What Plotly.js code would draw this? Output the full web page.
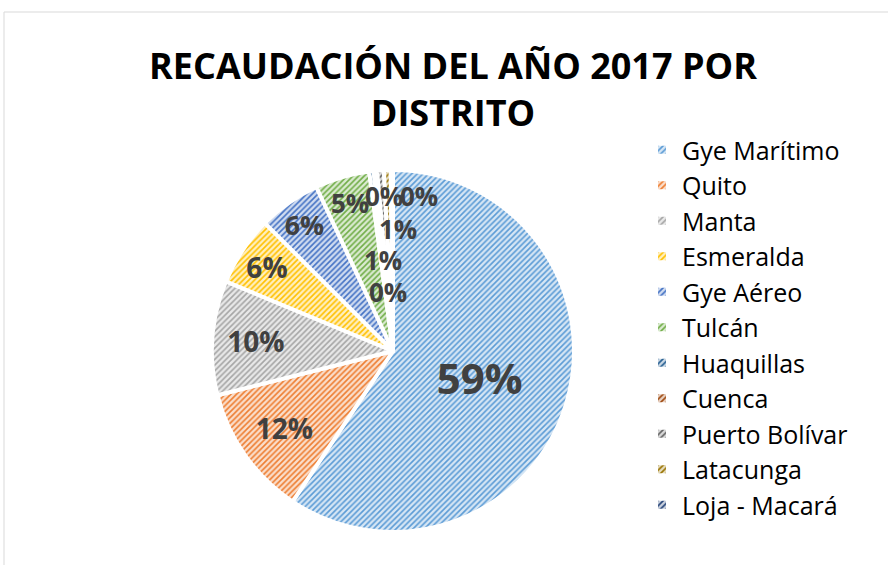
<!DOCTYPE html>
<html>
<head>
<meta charset="utf-8">
<script src="https://cdn.plot.ly/plotly-3.0.1.min.js"></script>
<style>html,body{margin:0;padding:0;background:#fff;}#chart{width:888px;height:565px;}</style>
</head>
<body>
<div id="chart"></div>
<script>
const districts = ["Gye Marítimo","Quito","Manta","Esmeralda","Gye Aéreo","Tulcán","Huaquillas","Cuenca","Puerto Bolívar","Latacunga","Loja - Macará"];
const shares = [59.3, 11.7, 10.2, 6.2, 5.55, 4.85, 0.4, 0.3, 0.6, 0.6, 0.2];
const sliceColors = ["#5B9BD5","#ED7D31","#A5A5A5","#FFC000","#4472C4","#70AD47","#255E91","#9E480E","#636363","#997300","#264478"];
const chartTitle = "RECAUDACIÓN DEL AÑO 2017 POR<br>DISTRITO";

const total = shares.reduce((a,b)=>a+b,0);
const pctText = shares.map(v => Math.round(v/total*100) + "%");
const annotIdx = shares.map((v,i)=> v < 5 ? i : -1).filter(i=>i>=0);
const textPos = shares.map(v => v < 5 ? "none" : "inside");
const textSizes = shares.map((v,i) => i === 0 ? 42 : 28);

// positions for the crowded narrow-slice labels (layout only)
const labelPos = [[350,203],[384,196],[419,196],[398,229],[383,260],[388,292]];
const annotations = annotIdx.map((idx,k) => ({
  x: labelPos[k][0]/888, y: 1 - labelPos[k][1]/565,
  xref: "paper", yref: "paper", text: pctText[idx], showarrow: false,
  font: {family: "Open Sans", size: 26, color: "#404040", weight: 700}
}));

const trace = {
  type: "pie",
  labels: districts,
  values: shares,
  sort: false,
  direction: "clockwise",
  rotation: 0,
  text: pctText,
  textinfo: "text",
  textposition: textPos,
  insidetextorientation: "horizontal",
  textfont: {family: "Open Sans", size: textSizes, color: "#404040", weight: 700},
  marker: {
    colors: sliceColors,
    line: {color: "#ffffff", width: 4},
    pattern: {shape: "/", fillmode: "overlay", fgcolor: "#ffffff", fgopacity: 0.75, size: 4, solidity: 0.6}
  },
  hoverinfo: "label+percent",
  domain: {x: [212/888, 574/888], y: [1 - 532/565, 1 - 170/565]}
};

const layout = {
  width: 888, height: 565,
  margin: {l: 0, r: 0, t: 0, b: 0},
  paper_bgcolor: "#ffffff",
  title: {
    text: chartTitle,
    font: {family: "Open Sans", size: 36, color: "#000000", weight: 700},
    x: 453/888, xanchor: "center", xref: "paper",
    y: 1 - 79/565, yanchor: "top", yref: "container"
  },
  showlegend: true,
  legend: {
    x: 642/888, xanchor: "left", y: 1 - 127/565, yanchor: "top",
    font: {family: "Open Sans", size: 25, color: "#000000"},
    bgcolor: "rgba(0,0,0,0)"
  },
  annotations: annotations,
  shapes: [{type: "rect", xref: "paper", yref: "paper", x0: 4/888, x1: 1.05, y0: -0.05, y1: 1 - 12/565,
            line: {color: "#D9D9D9", width: 1}, fillcolor: "rgba(0,0,0,0)", layer: "below"}]
};

Plotly.newPlot("chart", [trace], layout, {displayModeBar: false, staticPlot: true});
</script>
</body>
</html>
